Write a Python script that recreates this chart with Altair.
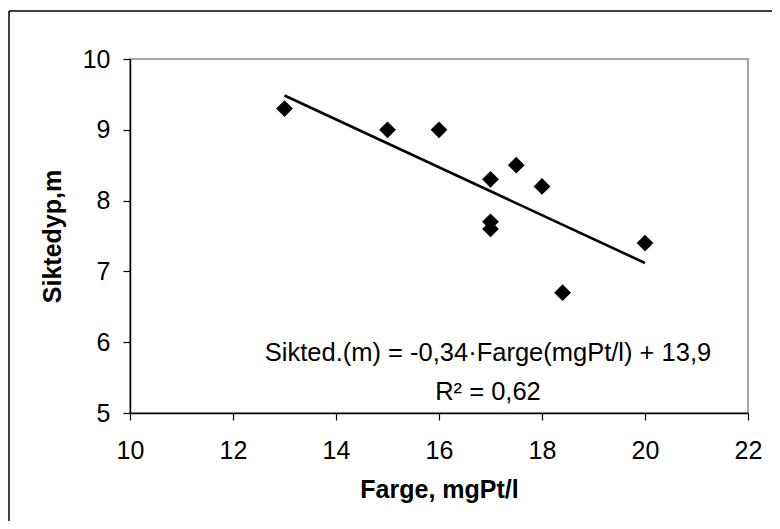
import altair as alt
import pandas as pd

# Data
farge = [13, 15, 16, 17, 17.5, 18, 17, 17, 18.4, 20]
siktedyp = [9.3, 9.0, 9.0, 8.3, 8.5, 8.2, 7.7, 7.6, 6.7, 7.4]
x_ticks = [10, 12, 14, 16, 18, 20, 22]
y_ticks = [5, 6, 7, 8, 9, 10]
eq_lines = ["Sikted.(m) = -0,34·Farge(mgPt/l) + 13,9", "R² = 0,62"]
x_title = "Farge, mgPt/l"
y_title = "Siktedyp,m"

df = pd.DataFrame({"Farge": farge, "Siktedyp": siktedyp})
FONT = "Liberation Sans"

x_enc = alt.X(
    "Farge:Q",
    scale=alt.Scale(domain=[10, 22], nice=False, zero=False),
    axis=alt.Axis(values=x_ticks, format="d", title=x_title, labelPadding=18, titlePadding=14),
)
y_enc = alt.Y(
    "Siktedyp:Q",
    scale=alt.Scale(domain=[5, 10], nice=False, zero=False),
    axis=alt.Axis(values=y_ticks, format="d", title=y_title, labelPadding=13, titlePadding=17),
)

points = alt.Chart(df).mark_point(
    shape="diamond", filled=True, color="black", size=280, opacity=1
).encode(x=x_enc, y=y_enc)

trend = (
    alt.Chart(df)
    .transform_regression("Farge", "Siktedyp")
    .mark_line(color="black", strokeWidth=2.6)
    .encode(x=alt.X("Farge:Q"), y=alt.Y("Siktedyp:Q"))
)

one = pd.DataFrame({"a": [0]})

annotation = alt.Chart(one).mark_text(
    text=eq_lines,
    font=FONT,
    fontSize=25.5,
    color="black",
    align="center",
    baseline="middle",
    lineHeight=39,
).encode(x=alt.value(358), y=alt.value(294))

frame_top = alt.Chart(one).mark_rule(color="black", strokeWidth=1.5).encode(
    x=alt.value(-121), x2=alt.value(650), y=alt.value(-48)
)
frame_left = alt.Chart(one).mark_rule(color="black", strokeWidth=1.5).encode(
    x=alt.value(-121), y=alt.value(-48), y2=alt.value(480)
)

chart = (
    alt.layer(frame_top, frame_left, trend, points, annotation)
    .properties(
        width=618,
        height=354,
        padding={"left": 122, "top": 51, "right": 24, "bottom": 108},
        autosize=alt.AutoSizeParams(type="none"),
        background="white",
    )
    .configure_view(stroke="#888888", strokeWidth=1.5)
    .configure_axis(
        grid=False,
        domainColor="black",
        domainWidth=1.5,
        tickColor="black",
        tickWidth=1.2,
        tickSize=7,
        labelFlush=False,
        labelOverlap=False,
        labelFont=FONT,
        labelFontSize=25,
        labelColor="black",
        titleFont=FONT,
        titleFontSize=25,
        titleFontWeight="bold",
        titleColor="black",
    )
)

chart.save("out.html", embed_options={"renderer": "svg", "actions": False})
